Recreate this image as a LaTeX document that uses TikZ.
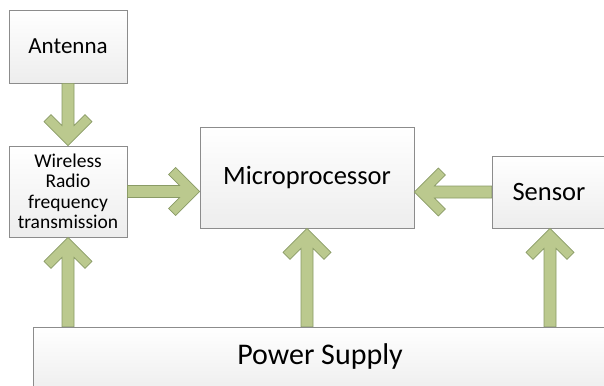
\documentclass[tikz,border=0pt]{standalone}
\usepackage{fontspec}
\setmainfont{Carlito}
\usetikzlibrary{calc,shadows}
\definecolor{arrfill}{HTML}{BBC98E}
\definecolor{arrline}{HTML}{8A9B66}
\definecolor{boxline}{HTML}{8C8C8C}
\definecolor{boxbot}{HTML}{EDEDED}
\tikzset{
  blockbox/.style={draw=boxline, line width=0.8pt, rectangle, inner sep=0pt,
    top color=white, bottom color=boxbot, align=center},
  boxshadow/.style={drop shadow={opacity=0.18, shadow xshift=1.2pt, shadow yshift=-1.2pt}},
  openarr/.style={fill=arrfill, draw=arrline, line width=0.7pt, line join=miter},
}
% #1 start, #2 tip
\newcommand\openarrow[2]{%
  \draw[openarr] (#2)
   -- ($($(#2)!24pt!(#1)$)!24pt!90:(#2)$)
   -- ($($(#2)!31pt!(#1)$)!17pt!90:(#2)$)
   -- ($($(#2)!20pt!(#1)$)!6pt!90:(#2)$)
   -- ($(#1)!6pt!90:(#2)$)
   -- ($(#1)!6pt!-90:(#2)$)
   -- ($($(#2)!20pt!(#1)$)!6pt!-90:(#2)$)
   -- ($($(#2)!31pt!(#1)$)!17pt!-90:(#2)$)
   -- ($($(#2)!24pt!(#1)$)!24pt!-90:(#2)$)
   -- cycle;}
\begin{document}
\begin{tikzpicture}[x=1pt,y=-1pt]
\useasboundingbox (0,0) rectangle (604,385);
\clip (0,0) rectangle (604,385);
\fill[white] (0,0) rectangle (604,385);
\node[blockbox, boxshadow, minimum width=118pt, minimum height=73pt, font=\fontsize{23}{25}\selectfont] (ant) at (68,46.5) {Antenna};
\node[blockbox, boxshadow, minimum width=118pt, minimum height=91pt, font=\fontsize{19.5}{20.5}\selectfont] (wrf) at (68,191.5) {Wireless\\Radio\\frequency\\transmission};
\node[blockbox, boxshadow, minimum width=214pt, minimum height=101pt, font=\fontsize{26.5}{28}\selectfont] (mcu) at (307,177.5) {Microprocessor};
\node[blockbox, minimum width=130pt, minimum height=72pt, font=\fontsize{26.5}{28}\selectfont] (sen) at (557,192) {\hspace*{-16pt}Sensor};
\node[blockbox, minimum width=590pt, text height=37pt, text depth=31pt, anchor=base, font=\fontsize{30}{32}\selectfont, xshift=8pt] (pwr) at (320,364) {\hspace*{-16pt}Power Supply};
\coordinate (wm) at (wrf.east -| mcu.west);
\coordinate (sm) at (sen.west -| mcu.east);
\coordinate (pw) at (wrf.south |- pwr.north);
\coordinate (pm) at (mcu.south |- pwr.north);
\coordinate (ps) at ($(sen.south |- pwr.north)+(-7pt,0)$);
\coordinate (st) at ($(sen.south)+(-7pt,0)$);
\openarrow{ant.south}{wrf.north}
\openarrow{wrf.east}{wm}
\openarrow{sen.west}{sm}
\openarrow{pw}{wrf.south}
\openarrow{pm}{mcu.south}
\openarrow{ps}{st}
\end{tikzpicture}
\end{document}
